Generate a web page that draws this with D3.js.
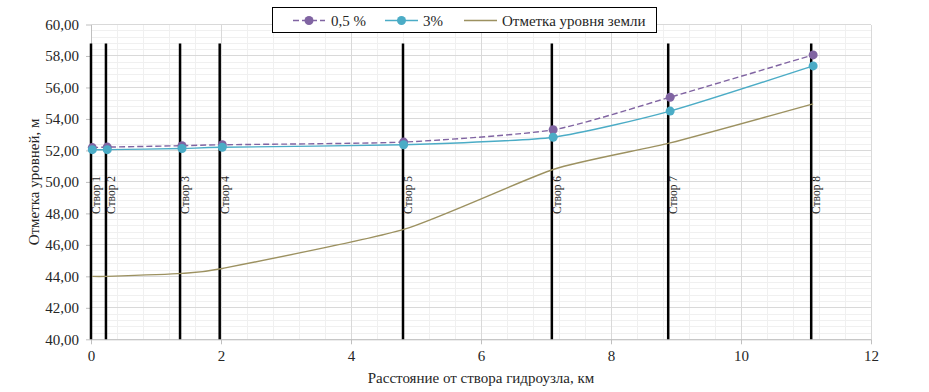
<!DOCTYPE html>
<html>
<head>
<meta charset="utf-8">
<script src="https://cdn.jsdelivr.net/npm/d3@7"></script>
<style>
  body { margin: 0; background: #fff; }
  text { font-family: "Liberation Serif", "Times New Roman", serif; fill: #262626; }
</style>
</head>
<body>
<div id="canvas"></div>
<script>
// створы: подписи и положение вертикальных линий, км
const stvorNames = ["Створ 1", "Створ 2", "Створ 3", "Створ 4", "Створ 5", "Створ 6", "Створ 7", "Створ 8"];
const stvorX = [0, 0.23, 1.37, 1.98, 4.8, 7.09, 8.88, 11.08];
const stvorTop = 58.8;

// расстояния точек, км
const distance = [0.02, 0.25, 1.4, 2.02, 4.81, 7.11, 8.91, 11.11];
const level05 = [52.18, 52.21, 52.3, 52.36, 52.53, 53.31, 55.38, 58.07];
const level3 = [52.05, 52.05, 52.12, 52.2, 52.36, 52.84, 54.5, 57.37];
const ground = [44.0, 44.0, 44.19, 44.5, 46.98, 50.79, 52.48, 54.96];

const xTicks = [0, 2, 4, 6, 8, 10, 12];
const yTicks = [40, 42, 44, 46, 48, 50, 52, 54, 56, 58, 60];

const width = 929;
const height = 392;
const margin = { top: 24.5, left: 91, bottom: 52.7, right: 58 };

const svg = d3.select("#canvas").append("svg")
  .attr("width", width)
  .attr("height", height);

const x = d3.scaleLinear().domain([0, 12]).range([margin.left, width - margin.right]);
const y = d3.scaleLinear().domain([40, 60]).range([height - margin.bottom, margin.top]);

const fmt = (d) => d3.format(".2f")(d).replace(".", ",");

// сетка: вспомогательные линии
const minorX = d3.range(0, 12.001, 0.4);
const minorY = d3.range(40, 60.001, 0.4);
const grid = svg.append("g");
grid.selectAll(".mx").data(minorX).enter().append("line")
  .attr("x1", (d) => x(d)).attr("x2", (d) => x(d))
  .attr("y1", y(40)).attr("y2", y(60))
  .attr("stroke", "#F0F0F0").attr("shape-rendering", "crispEdges");
grid.selectAll(".my").data(minorY).enter().append("line")
  .attr("x1", x(0)).attr("x2", x(12))
  .attr("y1", (d) => y(d)).attr("y2", (d) => y(d))
  .attr("stroke", "#F0F0F0").attr("shape-rendering", "crispEdges");
// основные линии
grid.selectAll(".gx").data(xTicks).enter().append("line")
  .attr("x1", (d) => x(d)).attr("x2", (d) => x(d))
  .attr("y1", y(40)).attr("y2", y(60))
  .attr("stroke", "#D9D9D9").attr("shape-rendering", "crispEdges");
grid.selectAll(".gy").data(yTicks).enter().append("line")
  .attr("x1", x(0)).attr("x2", x(12))
  .attr("y1", (d) => y(d)).attr("y2", (d) => y(d))
  .attr("stroke", "#D9D9D9").attr("shape-rendering", "crispEdges");

// оси
const xAxis = svg.append("g")
  .attr("transform", `translate(0,${y(40)})`)
  .call(d3.axisBottom(x).tickValues(xTicks).tickSizeInner(5).tickSizeOuter(0).tickPadding(6).tickFormat(d3.format("d")));
const yAxis = svg.append("g")
  .attr("transform", `translate(${x(0)},0)`)
  .call(d3.axisLeft(y).tickValues(yTicks).tickSizeInner(5).tickSizeOuter(0).tickPadding(7).tickFormat(fmt));
[xAxis, yAxis].forEach((a) => {
  a.attr("font-family", null);
  a.select(".domain").attr("stroke", "#BFBFBF");
  a.selectAll(".tick line").attr("stroke", "#BFBFBF");
  a.selectAll("text").style("font-size", "15px").attr("fill", "#262626")
    .style("font-family", "'Liberation Serif', serif");
});

// вертикальные линии створов
svg.selectAll(".stvor").data(stvorX).enter().append("line")
  .attr("x1", (d) => x(d)).attr("x2", (d) => x(d))
  .attr("y1", y(40)).attr("y2", y(stvorTop))
  .attr("stroke", "#000").attr("stroke-width", 2.5);

svg.selectAll(".stvorLabel").data(stvorNames).enter().append("text")
  .attr("transform", (d, i) => `translate(${x(stvorX[i]) + 9},214) rotate(-90)`)
  .style("font-size", "11.5px")
  .attr("fill", "#000")
  .text((d) => d);

// ряды
const pts = (vals) => vals.map((v, i) => [distance[i], v]);
const line = d3.line()
  .x((d) => x(d[0]))
  .y((d) => y(d[1]))
  .curve(d3.curveCardinal.tension(0.4));

svg.append("path").attr("d", line(pts(ground)))
  .attr("fill", "none").attr("stroke", "#9C9160").attr("stroke-width", 1.4);
svg.append("path").attr("d", line(pts(level3)))
  .attr("fill", "none").attr("stroke", "#4BACC6").attr("stroke-width", 1.4);
svg.append("path").attr("d", line(pts(level05)))
  .attr("fill", "none").attr("stroke", "#8064A2").attr("stroke-width", 1.4)
  .attr("stroke-dasharray", "6,3");

svg.selectAll(".m05").data(pts(level05)).enter().append("circle")
  .attr("cx", (d) => x(d[0])).attr("cy", (d) => y(d[1])).attr("r", 4.5)
  .attr("fill", "#8064A2");
svg.selectAll(".m3").data(pts(level3)).enter().append("circle")
  .attr("cx", (d) => x(d[0])).attr("cy", (d) => y(d[1])).attr("r", 4.5)
  .attr("fill", "#4BACC6");

// подписи осей
svg.append("text")
  .attr("x", 481).attr("y", 383)
  .attr("text-anchor", "middle")
  .style("font-size", "15px")
  .text("Расстояние от створа гидроузла, км");
svg.append("text")
  .attr("transform", `translate(39,${(y(40) + y(60)) / 2}) rotate(-90)`)
  .attr("text-anchor", "middle")
  .style("font-size", "15px")
  .text("Отметка уровней, м");

// легенда
const legend = svg.append("g");
legend.append("rect")
  .attr("x", 272.5).attr("y", 7.5).attr("width", 384).attr("height", 25)
  .attr("fill", "#fff").attr("stroke", "#000").attr("stroke-width", 1);

const legendItems = [
  { name: "0,5 %", color: "#8064A2", dash: "6,3", marker: true, x0: 293, x1: 325, tx: 331 },
  { name: "3%", color: "#4BACC6", dash: null, marker: true, x0: 385, x1: 418, tx: 423 },
  { name: "Отметка уровня земли", color: "#9C9160", dash: null, marker: false, x0: 464, x1: 497, tx: 502 }
];
legendItems.forEach((it) => {
  legend.append("line")
    .attr("x1", it.x0).attr("x2", it.x1).attr("y1", 20.5).attr("y2", 20.5)
    .attr("stroke", it.color).attr("stroke-width", 1.4)
    .attr("stroke-dasharray", it.dash);
  if (it.marker) {
    legend.append("circle")
      .attr("cx", (it.x0 + it.x1) / 2).attr("cy", 20.5).attr("r", 4.5)
      .attr("fill", it.color);
  }
  legend.append("text")
    .attr("x", it.tx).attr("y", 25.5)
    .style("font-size", "15px")
    .attr("fill", "#000")
    .text(it.name);
});
</script>
</body>
</html>
